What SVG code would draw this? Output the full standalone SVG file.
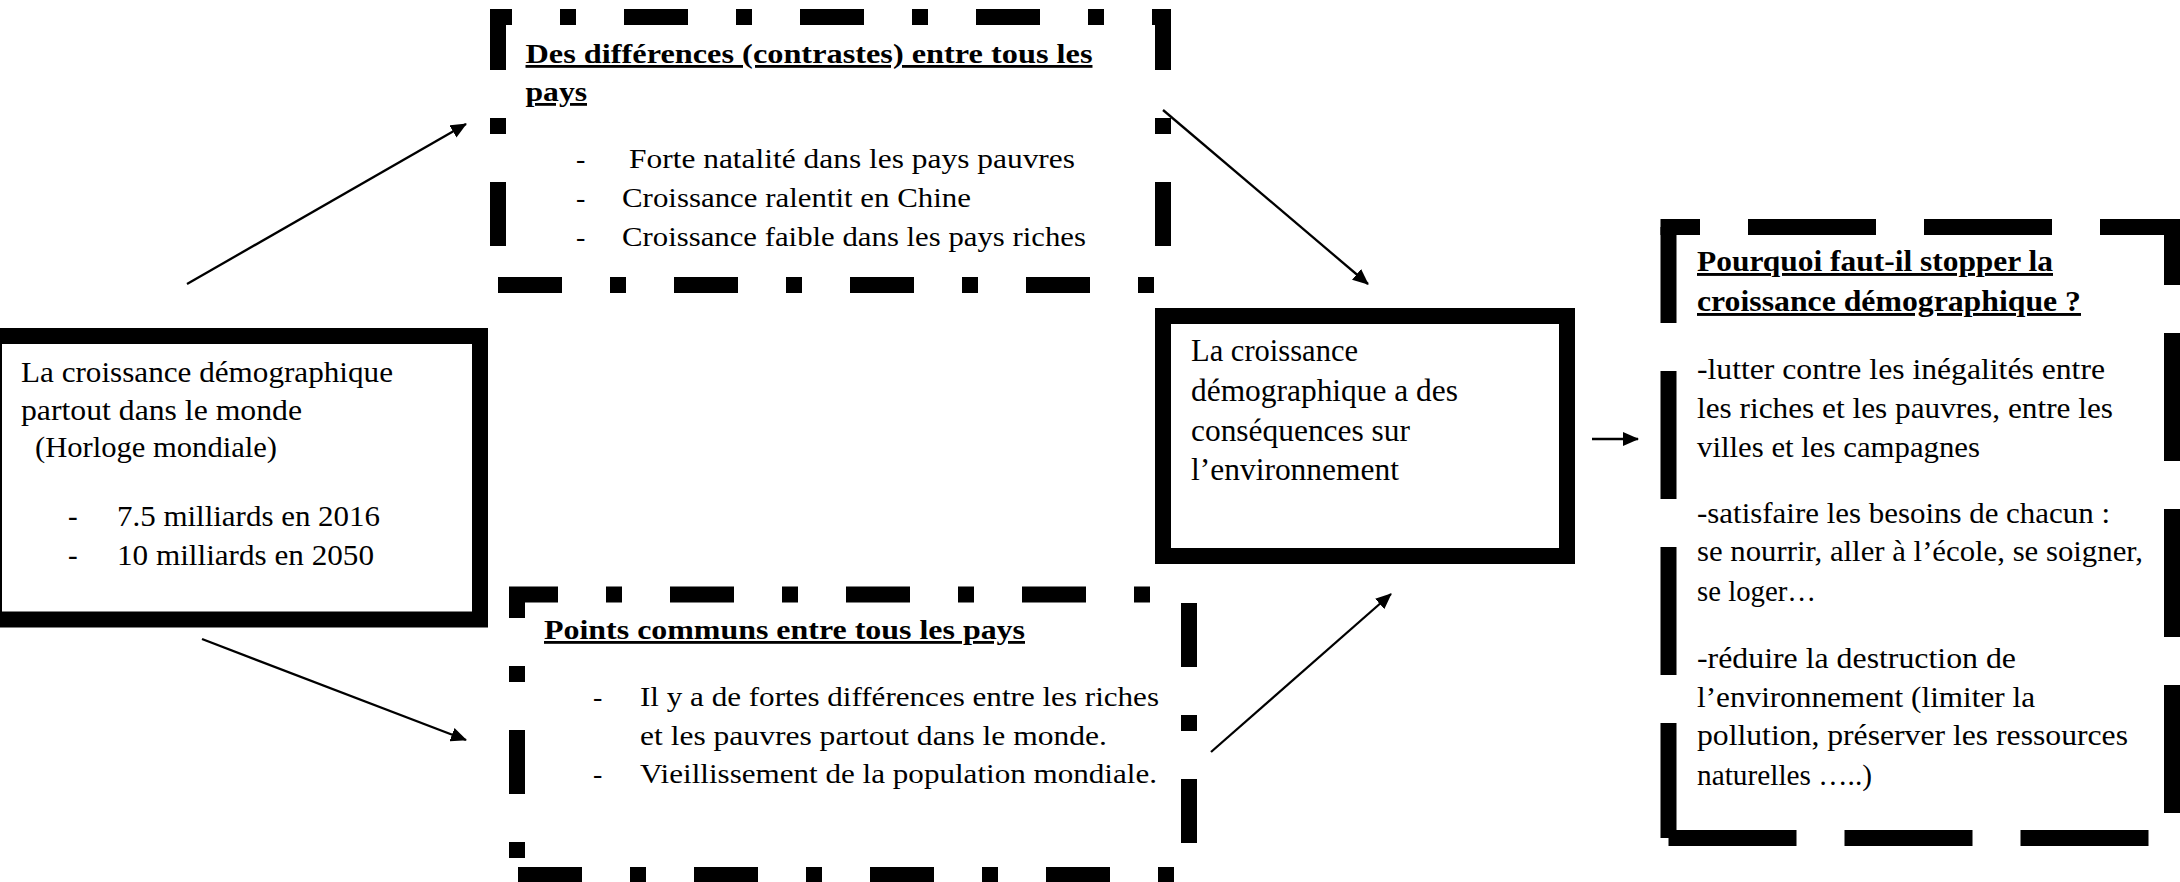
<svg xmlns="http://www.w3.org/2000/svg" width="2180" height="882" viewBox="0 0 2180 882">
<style>
.bg{fill:#fff}
.solid{fill:#fff;stroke:#000;stroke-width:16}
.dd{fill:none;stroke:#000;stroke-width:16;stroke-dasharray:64 48 16 48}
.ld{fill:none;stroke:#000;stroke-width:16;stroke-dasharray:128 48}
.t{font-family:"Liberation Serif",serif;font-size:28px;fill:#000}
.l{font-size:29px}
.m{font-size:31px}
.r{font-size:29px}
.h{font-weight:bold;text-decoration:underline}
.conn line{stroke:#000;stroke-width:2.3;marker-end:url(#ah)}
</style>
<defs>
<marker id="ah" markerWidth="16" markerHeight="14" refX="15" refY="7" orient="auto" markerUnits="userSpaceOnUse"><path d="M0,0 L16,7 L0,14 z" fill="#000"/></marker>
</defs>
<rect class="bg" x="0" y="0" width="2180" height="882"/>

<g id="node-monde">
<rect class="solid" x="-6" y="336" width="486" height="283.5"/>
<text class="t l" x="21" y="382" textLength="372" lengthAdjust="spacingAndGlyphs">La croissance démographique</text>
<text class="t l" x="21" y="420" textLength="281" lengthAdjust="spacingAndGlyphs">partout dans le monde</text>
<text class="t l" x="35" y="457" textLength="242" lengthAdjust="spacingAndGlyphs">(Horloge mondiale)</text>
<text class="t l" x="68" y="526">-</text>
<text class="t l" x="117" y="526" textLength="263" lengthAdjust="spacingAndGlyphs">7.5 milliards en 2016</text>
<text class="t l" x="68" y="565">-</text>
<text class="t l" x="117" y="565" textLength="257" lengthAdjust="spacingAndGlyphs">10 milliards en 2050</text>
</g>

<g id="node-differences">
<line class="dd" x1="490" y1="17" x2="1171" y2="17" stroke-dashoffset="42"/>
<line class="dd" x1="498" y1="17" x2="498" y2="285" stroke-dashoffset="11"/>
<line class="dd" x1="1163" y1="17" x2="1163" y2="285" stroke-dashoffset="11"/>
<line class="dd" x1="498" y1="285" x2="1171" y2="285"/>
<text class="t h" x="525.5" y="63" textLength="567" lengthAdjust="spacingAndGlyphs">Des différences (contrastes) entre tous les</text>
<text class="t h" x="525.5" y="101" textLength="61.5" lengthAdjust="spacingAndGlyphs">pays</text>
<text class="t" x="576" y="168">-</text>
<text class="t" x="629" y="168" textLength="446" lengthAdjust="spacingAndGlyphs">Forte natalité dans les pays pauvres</text>
<text class="t" x="576" y="207">-</text>
<text class="t" x="622" y="207" textLength="349" lengthAdjust="spacingAndGlyphs">Croissance ralentit en Chine</text>
<text class="t" x="576" y="246">-</text>
<text class="t" x="622" y="246" textLength="464" lengthAdjust="spacingAndGlyphs">Croissance faible dans les pays riches</text>
</g>

<g id="node-communs">
<line class="dd" x1="509" y1="594.5" x2="1197" y2="594.5" stroke-dashoffset="15"/>
<line class="dd" x1="517" y1="594.5" x2="517" y2="875" stroke-dashoffset="40.5"/>
<line class="dd" x1="1189" y1="594.5" x2="1189" y2="875" stroke-dashoffset="167.5"/>
<line class="dd" x1="518" y1="875" x2="1197" y2="875"/>
<text class="t h" x="544" y="639" textLength="481" lengthAdjust="spacingAndGlyphs">Points communs entre tous les pays</text>
<text class="t" x="593" y="706">-</text>
<text class="t" x="640" y="706" textLength="519" lengthAdjust="spacingAndGlyphs">Il y a de fortes différences entre les riches</text>
<text class="t" x="640" y="745" textLength="467" lengthAdjust="spacingAndGlyphs">et les pauvres partout dans le monde.</text>
<text class="t" x="593" y="783">-</text>
<text class="t" x="640" y="783" textLength="517" lengthAdjust="spacingAndGlyphs">Vieillissement de la population mondiale.</text>
</g>

<g id="node-environnement">
<rect class="solid" x="1163" y="316" width="404" height="240"/>
<text class="t m" x="1191" y="361" textLength="167" lengthAdjust="spacingAndGlyphs">La croissance</text>
<text class="t m" x="1191" y="401" textLength="267" lengthAdjust="spacingAndGlyphs">démographique a des</text>
<text class="t m" x="1191" y="440.5" textLength="219" lengthAdjust="spacingAndGlyphs">conséquences sur</text>
<text class="t m" x="1191" y="480" textLength="208" lengthAdjust="spacingAndGlyphs">l’environnement</text>
</g>

<g id="node-pourquoi">
<line class="ld" x1="1660.5" y1="227" x2="2180" y2="227" stroke-dashoffset="88.5"/>
<line class="ld" x1="1668.5" y1="227" x2="1668.5" y2="838" stroke-dashoffset="32"/>
<line class="ld" x1="2172" y1="227" x2="2172" y2="838" stroke-dashoffset="70"/>
<line class="ld" x1="1668.5" y1="838" x2="2172" y2="838"/>
<text class="t r h" x="1697" y="271" textLength="356" lengthAdjust="spacingAndGlyphs">Pourquoi faut-il stopper la</text>
<text class="t r h" x="1697" y="311" textLength="384" lengthAdjust="spacingAndGlyphs">croissance démographique ?</text>
<text class="t r" x="1697" y="379" textLength="408" lengthAdjust="spacingAndGlyphs">-lutter contre les inégalités entre</text>
<text class="t r" x="1697" y="418" textLength="416" lengthAdjust="spacingAndGlyphs">les riches et les pauvres, entre les</text>
<text class="t r" x="1697" y="457" textLength="283" lengthAdjust="spacingAndGlyphs">villes et les campagnes</text>
<text class="t r" x="1697" y="523" textLength="413" lengthAdjust="spacingAndGlyphs">-satisfaire les besoins de chacun :</text>
<text class="t r" x="1697" y="561" textLength="446" lengthAdjust="spacingAndGlyphs">se nourrir, aller à l’école, se soigner,</text>
<text class="t r" x="1697" y="601" textLength="119" lengthAdjust="spacingAndGlyphs">se loger…</text>
<text class="t r" x="1697" y="668" textLength="319" lengthAdjust="spacingAndGlyphs">-réduire la destruction de</text>
<text class="t r" x="1697" y="707" textLength="338" lengthAdjust="spacingAndGlyphs">l’environnement (limiter la</text>
<text class="t r" x="1697" y="745" textLength="431" lengthAdjust="spacingAndGlyphs">pollution, préserver les ressources</text>
<text class="t r" x="1697" y="785" textLength="175" lengthAdjust="spacingAndGlyphs">naturelles …..)</text>
</g>

<g id="connectors" class="conn">
<line x1="187" y1="284" x2="466" y2="124"/>
<line x1="1163" y1="110" x2="1368" y2="284"/>
<line x1="202" y1="639" x2="466" y2="740"/>
<line x1="1211" y1="752" x2="1391" y2="594"/>
<line x1="1592" y1="439" x2="1638" y2="439"/>
</g>
</svg>
